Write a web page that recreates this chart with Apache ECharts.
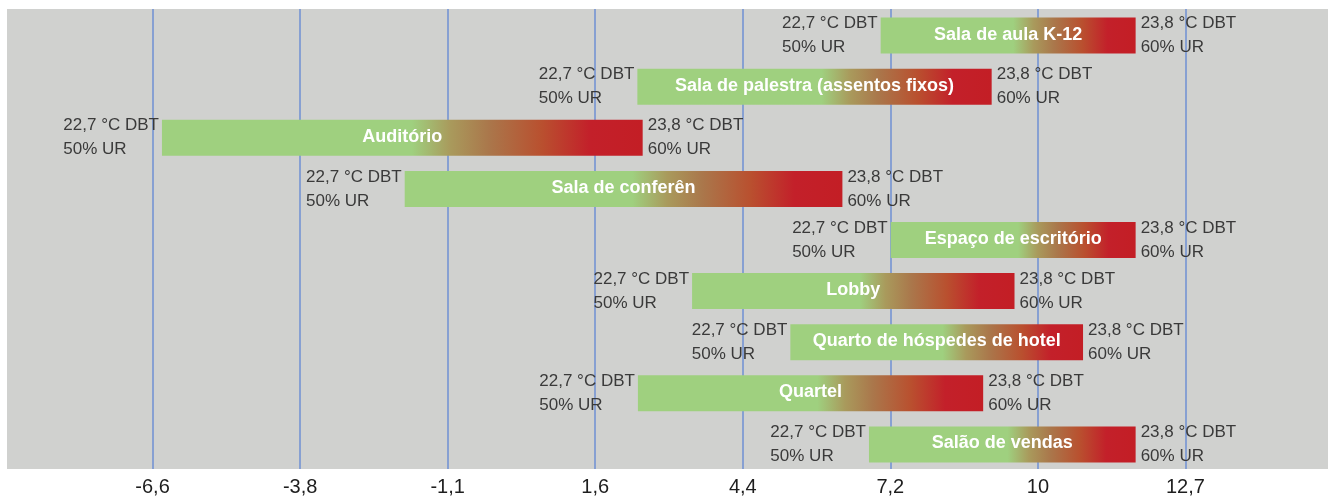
<!DOCTYPE html>
<html>
<head>
<meta charset="utf-8">
<script src="https://cdn.jsdelivr.net/npm/echarts@6/dist/echarts.min.js"></script>
<style>
  html, body { margin: 0; padding: 0; background: #fff; }
  #chart { width: 1328px; height: 497px; }
</style>
</head>
<body>
<div id="chart"></div>
<script>
// categories top to bottom
const categories = [
  'Sala de aula K-12',
  'Sala de palestra (assentos fixos)',
  'Auditório',
  'Sala de conferên',
  'Espaço de escritório',
  'Lobby',
  'Quarto de hóspedes de hotel',
  'Quartel',
  'Salão de vendas'
]
// bar start / end (°C)
const startValues = [7.04, 2.46, -6.49, -1.92, 7.23, 3.49, 5.34, 2.47, 6.82]
const endValues = [11.84, 9.13, 2.56, 6.32, 11.84, 9.56, 10.85, 8.97, 11.84]
const startLabel = ['22,7 °C DBT', '50% UR']
const endLabel = ['23,8 °C DBT', '60% UR']
// axis ticks in °C (20..55 °F)
const tickLabels = ['-6,6', '-3,8', '-1,1', '1,6', '4,4', '7,2', '10', '12,7']
const axisMin = -85 / 9
const axisMax = 140 / 9
const axisStep = 25 / 9

const font = '"Liberation Sans", Arial, sans-serif'
const data = categories.map((c, i) => [i, startValues[i], endValues[i]])

// width of the first line, so the left block ends at the bar start
const measure = document.createElement('canvas').getContext('2d')
measure.font = '17px ' + font
const startW = measure.measureText(startLabel[0]).width

const chart = echarts.init(document.getElementById('chart'))

chart.setOption({
  animation: false,
  graphic: [{
    type: 'rect',
    z: -10,
    shape: { x: 7, y: 9, width: 1321, height: 460 },
    style: { fill: '#d0d1cf' }
  }],
  grid: { left: 5, width: 1328, top: 9, bottom: 28, outerBoundsMode: 'none' },
  xAxis: {
    type: 'value',
    min: axisMin,
    max: axisMax,
    interval: axisStep,
    axisLine: { show: false },
    axisTick: { show: false },
    splitLine: {
      show: true,
      showMinLine: false,
      showMaxLine: false,
      lineStyle: { color: '#6f8fd3', width: 1.5 }
    },
    axisLabel: {
      showMinLabel: false,
      showMaxLabel: false,
      margin: 8,
      fontSize: 20,
      fontFamily: font,
      color: '#1e1e1e',
      formatter: (v) => {
        const idx = Math.round((v - axisMin) / axisStep) - 1
        return tickLabels[idx] || ''
      }
    }
  },
  yAxis: {
    type: 'category',
    data: categories,
    inverse: true,
    show: false
  },
  series: [{
    type: 'custom',
    clip: false,
    encode: { x: [1, 2], y: 0 },
    data: data,
    renderItem: (params, api) => {
      const cat = api.value(0)
      const p0 = api.coord([api.value(1), cat])
      const p1 = api.coord([api.value(2), cat])
      const h = 36
      const top = p0[1] - h / 2 + 1
      const name = categories[params.dataIndex]
      const side = {
        verticalAlign: 'top',
        align: 'left',
        lineHeight: 24,
        fill: '#3a3a3a',
        fontSize: 17,
        fontFamily: font
      }
      return {
        type: 'group',
        children: [
          {
            type: 'rect',
            shape: { x: p0[0], y: top, width: p1[0] - p0[0], height: h },
            style: {
              fill: new echarts.graphic.LinearGradient(0, 0, 1, 0, [
                { offset: 0, color: '#9fd07f' },
                { offset: 0.52, color: '#9fd07f' },
                { offset: 0.6, color: '#a99a5c' },
                { offset: 0.68, color: '#aa774b' },
                { offset: 0.79, color: '#b9502f' },
                { offset: 0.89, color: '#c3202a' },
                { offset: 1, color: '#c31e25' }
              ])
            }
          },
          {
            type: 'text',
            style: {
              text: name,
              x: (p0[0] + p1[0]) / 2,
              y: top + h / 2 - 1,
              align: 'center',
              verticalAlign: 'middle',
              fill: '#ffffff',
              fontSize: 18,
              fontWeight: 'bold',
              fontFamily: font
            }
          },
          {
            type: 'text',
            style: Object.assign({
              text: startLabel.join('\n'),
              x: p0[0] - 3 - startW,
              y: top - 6
            }, side)
          },
          {
            type: 'text',
            style: Object.assign({
              text: endLabel.join('\n'),
              x: p1[0] + 5,
              y: top - 6
            }, side)
          }
        ]
      }
    }
  }]
})
</script>
</body>
</html>
